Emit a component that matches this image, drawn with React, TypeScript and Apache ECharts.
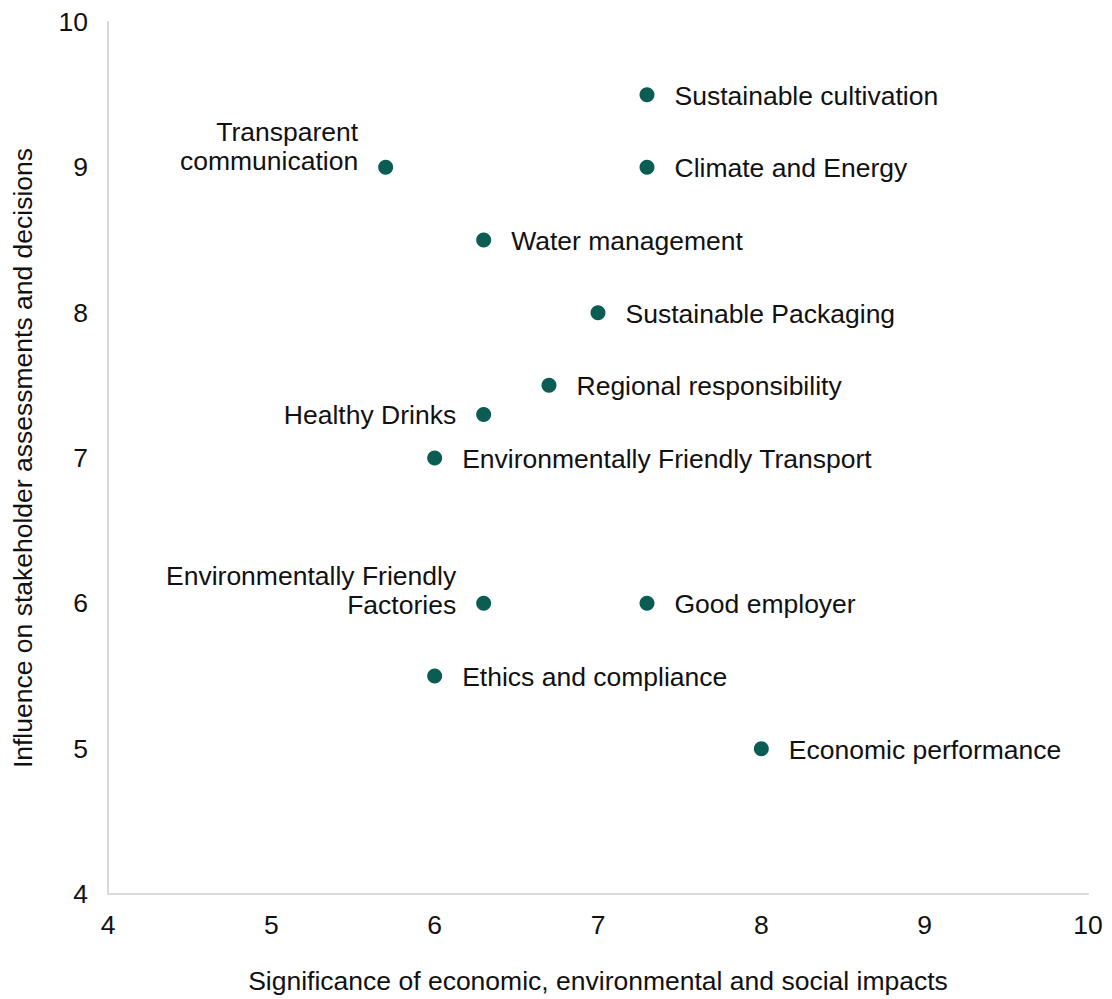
import React, { useEffect, useRef } from "react";
import * as echarts from "echarts";

const topicNames = [
  "Sustainable cultivation",
  "Climate and Energy",
  "Transparent\ncommunication",
  "Water management",
  "Sustainable Packaging",
  "Regional responsibility",
  "Healthy Drinks",
  "Environmentally Friendly Transport",
  "Environmentally Friendly\nFactories",
  "Good employer",
  "Ethics and compliance",
  "Economic performance",
];
const significanceValues = [7.3, 7.3, 5.7, 6.3, 7, 6.7, 6.3, 6, 6.3, 7.3, 6, 8];
const influenceValues = [9.5, 9, 9, 8.5, 8, 7.5, 7.3, 7, 6, 6, 5.5, 5];
const labelSides = ["right", "right", "left", "right", "right", "right", "left", "right", "left", "right", "right", "right"];

const xTitle = "Significance of economic, environmental and social impacts";
const yTitle = "Influence on stakeholder assessments and decisions";

const FONT = "'Liberation Sans', Arial, Helvetica, sans-serif";
const FS = 26.5;
const TXT = "#111111";

export default function App() {
  const ref = useRef<HTMLDivElement>(null);
  useEffect(() => {
    if (!ref.current) return;
    const chart = echarts.init(ref.current, undefined, { renderer: "svg" });
    const data = topicNames.map((name, i) => {
      const side = labelSides[i];
      const multi = name.includes("\n");
      return {
        name,
        value: [significanceValues[i], influenceValues[i]],
        label: {
          position: side,
          align: side === "left" ? "right" : "left",
          offset: multi ? [0, name.startsWith("Transparent") ? -21 : -13] : [0, 1],
        },
      };
    });
    chart.setOption({
      animation: false,
      backgroundColor: "#ffffff",
      grid: { left: 108, right: 24, top: 22, bottom: 104 },
      xAxis: {
        type: "value",
        min: 4,
        max: 10,
        interval: 1,
        name: xTitle,
        nameLocation: "middle",
        nameGap: 73,
        nameTextStyle: { fontFamily: FONT, fontSize: FS, color: TXT },
        axisLine: { show: true, lineStyle: { color: "#d9d9d9", width: 2 } },
        axisTick: { show: false },
        splitLine: { show: false },
        axisLabel: { fontFamily: FONT, fontSize: FS, color: TXT, margin: 17 },
      },
      yAxis: {
        type: "value",
        min: 4,
        max: 10,
        interval: 1,
        name: yTitle,
        nameLocation: "middle",
        nameRotate: 90,
        nameGap: 72,
        nameTextStyle: { fontFamily: FONT, fontSize: FS, color: TXT },
        axisLine: { show: true, lineStyle: { color: "#d9d9d9", width: 2 } },
        axisTick: { show: false },
        splitLine: { show: false },
        axisLabel: { fontFamily: FONT, fontSize: FS, color: TXT, margin: 20 },
      },
      series: [
        {
          type: "scatter",
          symbol: "circle",
          symbolSize: 15,
          itemStyle: { color: "#0b5d54", opacity: 1 },
          data,
          label: {
            show: true,
            formatter: "{b}",
            distance: 20,
            fontFamily: FONT,
            fontSize: FS,
            lineHeight: 29,
            color: TXT,
          },
        },
      ],
    });
    return () => chart.dispose();
  }, []);
  return (
    <div
      ref={ref}
      style={{ position: "fixed", left: 0, top: 0, width: 1112, height: 999 }}
    />
  );
}
